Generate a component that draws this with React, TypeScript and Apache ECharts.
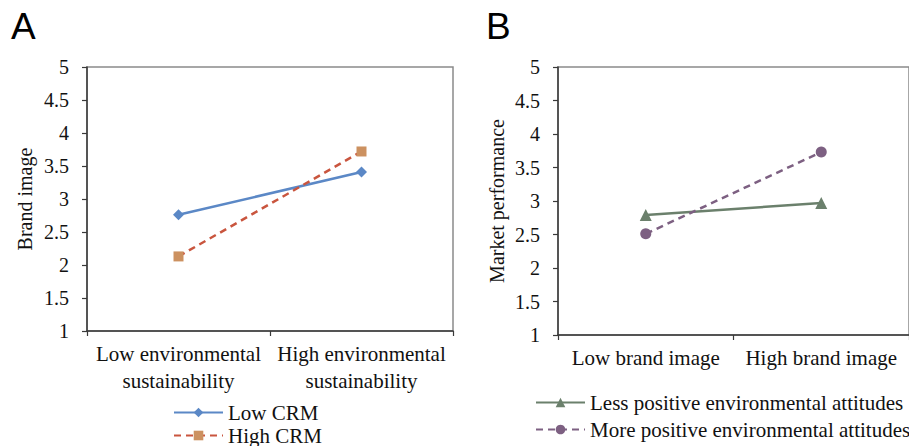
import React, { useEffect, useRef } from "react";
import * as echarts from "echarts";

const catsA = ["Low environmental\nsustainability", "High environmental\nsustainability"];
const lowCRM = [2.76, 3.41];
const highCRM = [2.13, 3.72];

const catsB = ["Low brand image", "High brand image"];
const lessPositive = [2.79, 2.97];
const morePositive = [2.51, 3.73];

const yTicksMin = 1;
const yTicksMax = 5;
const yTickStep = 0.5;

const SERIF = "Liberation Serif, Times New Roman, serif";

function yAxis(gridIndex: number, name: string, gap: number) {
  return {
    type: "value",
    gridIndex,
    min: yTicksMin,
    max: yTicksMax,
    interval: yTickStep,
    name,
    nameLocation: "middle",
    nameGap: gap,
    nameTextStyle: { fontFamily: SERIF, fontSize: 20, color: "#111" },
    axisLine: { show: true, lineStyle: { color: "#3a3a3a", width: 1.5 } },
    axisTick: { show: true, length: 5, lineStyle: { color: "#3a3a3a", width: 1.2 } },
    axisLabel: { fontFamily: SERIF, fontSize: 20, color: "#111", margin: 18 },
    splitLine: { show: false },
  };
}

function xAxis(gridIndex: number, data: string[]) {
  return {
    type: "category",
    gridIndex,
    data,
    boundaryGap: true,
    axisLine: { show: true, lineStyle: { color: "#3a3a3a", width: 1.5 } },
    axisTick: { show: true, length: 5, lineStyle: { color: "#3a3a3a", width: 1.2 } },
    axisLabel: { fontFamily: SERIF, fontSize: 21, color: "#111", margin: 9, lineHeight: 27, interval: 0 },
    splitLine: { show: false },
  };
}

export default function App() {
  const ref = useRef<HTMLDivElement>(null);
  useEffect(() => {
    if (!ref.current) return;
    const chart = echarts.init(ref.current, undefined, { renderer: "svg" });
    chart.setOption({
      animation: false,
      backgroundColor: "#ffffff",
      grid: [
        { left: 87, top: 67, width: 366, height: 264, show: true, borderColor: "#8a8a8a", borderWidth: 1.5, backgroundColor: "transparent" },
        { left: 558, top: 67, width: 358, height: 268, show: true, borderColor: "#8a8a8a", borderWidth: 1.5, backgroundColor: "transparent" },
      ],
      xAxis: [xAxis(0, catsA), xAxis(1, catsB)],
      yAxis: [yAxis(0, "Brand image", 52), yAxis(1, "Market performance", 51)],
      legend: [
        {
          data: ["Low CRM", "High CRM"],
          orient: "vertical",
          left: 173,
          bottom: 0,
          padding: 0,
          itemWidth: 49,
          itemHeight: 12,
          itemGap: 2,
          textStyle: { fontFamily: SERIF, fontSize: 21, color: "#111", lineHeight: 21 },
        },
        {
          data: ["Less positive environmental attitudes", "More positive environmental attitudes"],
          orient: "vertical",
          left: 535,
          bottom: 6,
          padding: 0,
          itemWidth: 49,
          itemHeight: 12,
          itemGap: 6,
          textStyle: { fontFamily: SERIF, fontSize: 21, color: "#111", lineHeight: 21 },
        },
      ],
      graphic: [
        { type: "text", left: 11, top: 8, style: { text: "A", font: "37px Liberation Sans, Arial, sans-serif", fill: "#000" } },
        { type: "text", left: 486, top: 8, style: { text: "B", font: "37px Liberation Sans, Arial, sans-serif", fill: "#000" } },
      ],
      series: [
        {
          name: "Low CRM",
          type: "line",
          xAxisIndex: 0,
          yAxisIndex: 0,
          data: lowCRM,
          symbol: "diamond",
          symbolSize: 11,
          lineStyle: { color: "#5b88c6", width: 2.5 },
          itemStyle: { color: "#5b88c6" },
        },
        {
          name: "High CRM",
          type: "line",
          xAxisIndex: 0,
          yAxisIndex: 0,
          data: highCRM,
          symbol: "rect",
          symbolSize: 10,
          lineStyle: { color: "#c9553e", width: 2.5, type: [7, 5] },
          itemStyle: { color: "#cc9160" },
        },
        {
          name: "Less positive environmental attitudes",
          type: "line",
          xAxisIndex: 1,
          yAxisIndex: 1,
          data: lessPositive,
          symbol: "triangle",
          symbolSize: 12,
          lineStyle: { color: "#6b806c", width: 2.5 },
          itemStyle: { color: "#6b806c" },
        },
        {
          name: "More positive environmental attitudes",
          type: "line",
          xAxisIndex: 1,
          yAxisIndex: 1,
          data: morePositive,
          symbol: "circle",
          symbolSize: 11,
          lineStyle: { color: "#7d6082", width: 2.5, type: [7, 5] },
          itemStyle: { color: "#7d6082" },
        },
      ],
    });
    return () => chart.dispose();
  }, []);
  return <div ref={ref} style={{ position: "fixed", left: 0, top: 0, width: 909, height: 446 }} />;
}
